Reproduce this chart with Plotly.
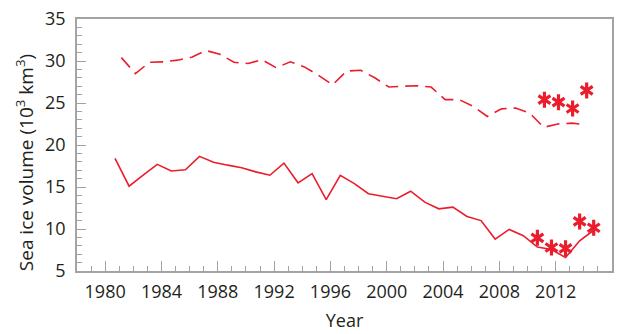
import plotly.graph_objects as go

# Annual sea ice volume, 10^3 km^3
years = list(range(1980, 2015))
autumn_volume = [18.4, 15.1, 16.4, 17.7, 16.9, 17.05, 18.65, 17.95, 17.6, 17.3,
                 16.8, 16.4, 17.85, 15.5, 16.6, 13.5, 16.4, 15.4, 14.2, 13.9,
                 13.6, 14.5, 13.2, 12.4, 12.6, 11.5, 11.0, 8.8, 9.95, 9.2,
                 7.85, 7.55, 6.6, 8.6, 9.85]

spring_years = list(range(1981, 2015))
spring_volume = [30.4, 28.5, 29.85, 29.9, 30.1, 30.45, 31.25, 30.8, 29.85, 29.7,
                 30.15, 29.2, 29.9, 29.3, 28.3, 27.15, 28.8, 28.9, 28.0, 26.9,
                 27.0, 27.05, 26.9, 25.4, 25.4, 24.6, 23.4, 24.3, 24.4, 23.8,
                 22.1, 22.5, 22.6, 22.4]

# Satellite-based estimates
obs_autumn_years = [2010, 2011, 2012, 2013, 2014]
obs_autumn_volume = [8.95, 7.8, 7.7, 10.9, 10.15]
obs_spring_years = [2011, 2012, 2013, 2014]
obs_spring_volume = [25.4, 25.1, 24.35, 26.5]

x_ticks = list(range(1980, 2013, 4))

RED = "#ea1d2c"
GREY = "#a3a3a3"
TEXT = "#231f20"
AUTUMN_OFFSET = 0.7   # autumn minimum, late in the year
SPRING_OFFSET = 0.15  # spring maximum, early in the year

fig = go.Figure()

fig.add_trace(go.Scatter(
    x=[y + SPRING_OFFSET for y in spring_years], y=spring_volume,
    mode="lines", line=dict(color=RED, width=1.6, dash="13px,7px"),
    showlegend=False))
fig.add_trace(go.Scatter(
    x=[y + AUTUMN_OFFSET for y in years], y=autumn_volume,
    mode="lines", line=dict(color=RED, width=1.6),
    showlegend=False))

# six-armed asterisks built from two overlaid Y symbols
for xs, ys, off in [(obs_autumn_years, obs_autumn_volume, AUTUMN_OFFSET),
                    (obs_spring_years, obs_spring_volume, SPRING_OFFSET + 0.05)]:
    for sym in ("y-up-open", "y-down-open"):
        fig.add_trace(go.Scatter(
            x=[y + off for y in xs], y=ys, mode="markers",
            marker=dict(symbol=sym, size=10, color=RED,
                        line=dict(color=RED, width=3.2)),
            showlegend=False))

axis_common = dict(
    showline=True, linecolor=GREY, linewidth=1.6, mirror=True,
    showgrid=False, zeroline=False, automargin=False,
    ticks="inside", tickcolor=GREY, tickwidth=1.3,
    tickfont=dict(size=18, color=TEXT),
)

fig.update_xaxes(
    range=[1978, 2016], tickmode="array", tickvals=x_ticks, ticklen=10,
    ticklabelstandoff=4,
    minor=dict(dtick=1, tick0=1978, ticks="inside", ticklen=5,
               tickcolor=GREY, tickwidth=1.3),
    title=dict(text="Year", font=dict(size=18, color=TEXT), standoff=12),
    **axis_common)
fig.update_yaxes(
    range=[5, 35], tickmode="linear", tick0=5, dtick=5, ticklen=9,
    ticklabelstandoff=6,
    minor=dict(dtick=1, ticks="inside", ticklen=5,
               tickcolor=GREY, tickwidth=1.3),
    **axis_common)

fig.add_annotation(
    text="Sea ice volume (10<sup>3</sup> km<sup>3</sup>)",
    xref="paper", yref="paper", x=-0.098, y=0.43,
    xanchor="center", yanchor="middle", textangle=-90, showarrow=False,
    font=dict(size=19, color=TEXT))

fig.update_layout(
    width=620, height=334,
    margin=dict(l=77, r=8, t=19, b=63, autoexpand=False),
    paper_bgcolor="white", plot_bgcolor="white",
    font=dict(family="Open Sans", color=TEXT),
)

fig.write_html("out.html")
